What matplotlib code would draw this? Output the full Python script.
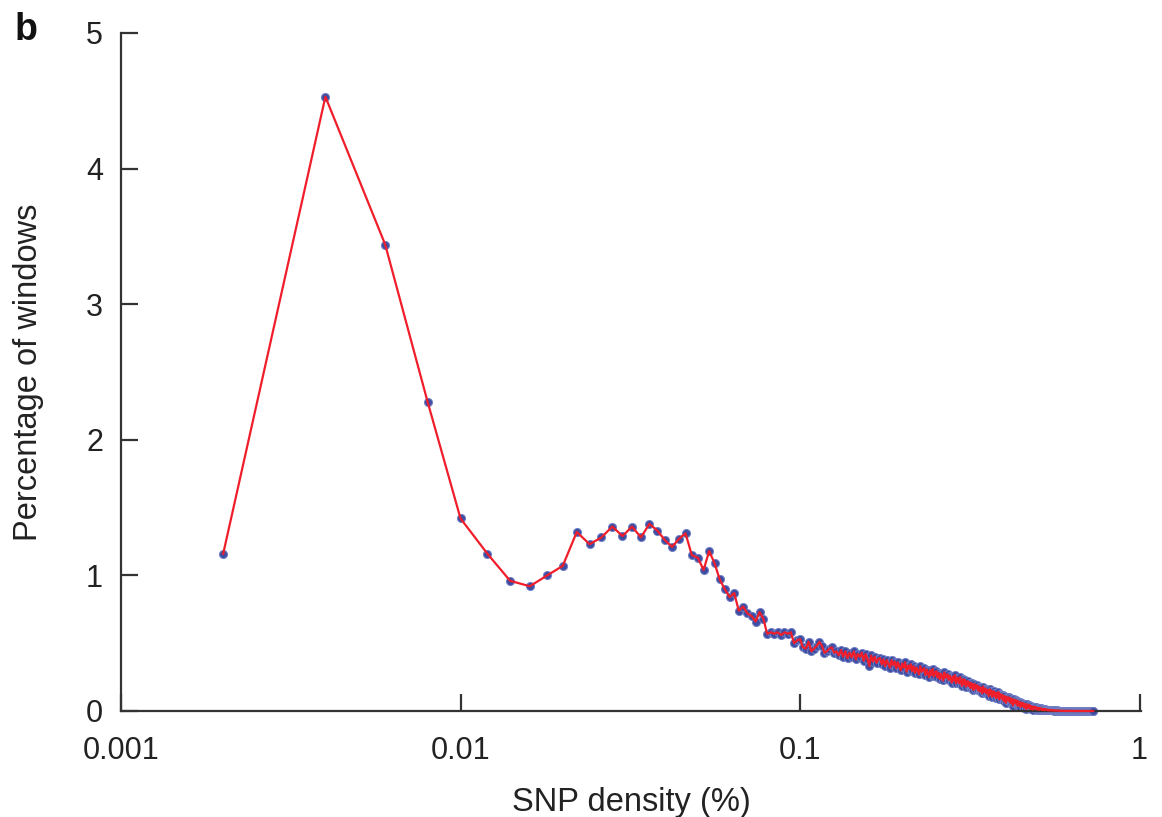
import numpy as np
import matplotlib
matplotlib.use("Agg")
import matplotlib.pyplot as plt

plt.rcParams['font.family'] = ['Liberation Sans', 'DejaVu Sans']

# SNP density bins are 0.002 % wide; values = percentage of windows per bin
bin_width = 0.002

# bins 0.002 .. 0.098
head_pct = [1.16, 4.53, 3.44, 2.28, 1.42, 1.16, 0.96, 0.92, 1.00, 1.07,
            1.32, 1.23, 1.28, 1.36, 1.29, 1.36, 1.28, 1.38, 1.33, 1.26,
            1.21, 1.27, 1.31, 1.15, 1.13, 1.04, 1.18, 1.09, 0.97, 0.90,
            0.84, 0.87, 0.74, 0.77, 0.72, 0.70, 0.66, 0.73, 0.68, 0.57,
            0.58, 0.57, 0.58, 0.56, 0.58, 0.57, 0.58, 0.50, 0.52]

# bins 0.100 .. 0.130
mid_pct = [0.53, 0.47, 0.46, 0.51, 0.44, 0.46, 0.48, 0.51, 0.48, 0.43,
           0.44, 0.46, 0.47, 0.43, 0.44, 0.41]

# bins 0.132 .. 0.330
tail1_pct = [0.45, 0.40, 0.44, 0.39, 0.43, 0.395, 0.44, 0.38, 0.42, 0.40,
             0.43, 0.37, 0.42, 0.385, 0.33, 0.41, 0.365, 0.40, 0.355, 0.385,
             0.39, 0.345, 0.38, 0.33, 0.375, 0.35, 0.32, 0.375, 0.34, 0.365,
             0.315, 0.36, 0.33, 0.30, 0.35, 0.32, 0.36, 0.29, 0.335, 0.31,
             0.345, 0.295, 0.33, 0.28, 0.32, 0.30, 0.27, 0.33, 0.29, 0.305,
             0.315, 0.265, 0.305, 0.28, 0.25, 0.30, 0.265, 0.31, 0.255, 0.285,
             0.295, 0.25, 0.28, 0.235, 0.275, 0.255, 0.225, 0.285, 0.245, 0.265,
             0.27, 0.23, 0.26, 0.24, 0.21, 0.255, 0.225, 0.265, 0.205, 0.245,
             0.24, 0.205, 0.25, 0.215, 0.185, 0.235, 0.20, 0.23, 0.18, 0.215,
             0.22, 0.185, 0.21, 0.17, 0.205, 0.18, 0.155, 0.20, 0.165, 0.185]

# bins 0.332 .. 0.530
tail2_pct = [0.19, 0.155, 0.18, 0.145, 0.175, 0.15, 0.13, 0.18, 0.14, 0.16,
             0.165, 0.13, 0.155, 0.135, 0.11, 0.16, 0.125, 0.15, 0.105, 0.14,
             0.145, 0.11, 0.135, 0.095, 0.13, 0.105, 0.14, 0.085, 0.125, 0.105,
             0.12, 0.09, 0.115, 0.075, 0.11, 0.085, 0.06, 0.105, 0.08, 0.095,
             0.10, 0.07, 0.095, 0.06, 0.09, 0.065, 0.04, 0.085, 0.06, 0.075,
             0.08, 0.05, 0.075, 0.04, 0.07, 0.045, 0.065, 0.03, 0.06, 0.05,
             0.06, 0.035, 0.055, 0.025, 0.05, 0.03, 0.015, 0.05, 0.025, 0.04,
             0.045, 0.02, 0.04, 0.015, 0.035, 0.024, 0.01, 0.033, 0.02, 0.028,
             0.03, 0.015, 0.026, 0.01, 0.024, 0.014, 0.022, 0.008, 0.02, 0.016,
             0.019, 0.009, 0.016, 0.007, 0.015, 0.011, 0.005, 0.014, 0.009, 0.011]

# bins 0.532 .. 0.730
tail3_pct = [0.01, 0.006, 0.009, 0.005, 0.008, 0.006, 0.004, 0.008, 0.005, 0.007,
             0.006, 0.004, 0.005, 0.003, 0.005, 0.004, 0.002, 0.004, 0.003, 0.004,
             0.003, 0.002, 0.003, 0.001, 0.002, 0.002, 0.001, 0.002, 0.001, 0.002,
             0.001, 0.001, 0.002, 0.001, 0.001, 0.0, 0.001, 0.001, 0.0, 0.001,
             0.001, 0.0, 0.001, 0.0, 0.0, 0.001, 0.0, 0.0, 0.001, 0.0,
             0.0, 0.0, 0.001, 0.0, 0.0, 0.0, 0.0, 0.001, 0.0, 0.0,
             0.0, 0.0, 0.0, 0.0, 0.0, 0.0, 0.0, 0.0, 0.0, 0.0,
             0.0, 0.0, 0.0, 0.0, 0.0, 0.0, 0.0, 0.0, 0.0, 0.0,
             0.0, 0.0, 0.0, 0.0, 0.0, 0.0, 0.0, 0.0, 0.0, 0.0,
             0.0, 0.0, 0.0, 0.0, 0.0, 0.0, 0.0, 0.0, 0.0, 0.0]

x_ticks = [0.001, 0.01, 0.1, 1]
x_ticklabels = ["0.001", "0.01", "0.1", "1"]
y_ticks = [0, 1, 2, 3, 4, 5]
y_ticklabels = ["0", "1", "2", "3", "4", "5"]

pct = np.array(head_pct + mid_pct + tail1_pct + tail2_pct + tail3_pct)
density = bin_width * np.arange(1, len(pct) + 1)

fig = plt.figure(figsize=(11.62, 8.17), dpi=100)
ax = fig.add_axes([121 / 1162, 1 - 711 / 817, (1141 - 121) / 1162, (711 - 33) / 817])

ax.plot(density, pct, linestyle='none', marker='o', markersize=5.8,
        markerfacecolor='#3d4da3', markeredgecolor='#7380c4', markeredgewidth=0.7,
        clip_on=False, zorder=2)
ax.plot(density, pct, color='#f01e2a', linewidth=1.6, clip_on=False, zorder=3)

ax.set_xscale('log')
ax.set_xlim(0.001, 1.01)
ax.set_ylim(0, 5)
ax.set_xticks(x_ticks)
ax.set_xticklabels(x_ticklabels)
ax.set_yticks(y_ticks)
ax.set_yticklabels(y_ticklabels)
ax.xaxis.set_minor_locator(matplotlib.ticker.NullLocator())

for side in ['top', 'right']:
    ax.spines[side].set_visible(False)
for side in ['left', 'bottom']:
    ax.spines[side].set_linewidth(1.6)
    ax.spines[side].set_color('#333333')

ax.tick_params(axis='both', direction='in', length=12, width=1.6, color='#333333',
               labelsize=22, labelcolor='#222222')
ax.tick_params(axis='y', pad=13)
ax.tick_params(axis='x', pad=18)

ax.set_xlabel('SNP density (%)', fontsize=23.5, color='#222222', labelpad=15)
ax.set_ylabel('Percentage of windows', fontsize=23.5, color='#222222', labelpad=30)

fig.text(15 / 1162, 1 - 40 / 817, 'b', fontsize=27, fontweight='bold', color='#111111')

fig.savefig('out.png', dpi=100)
